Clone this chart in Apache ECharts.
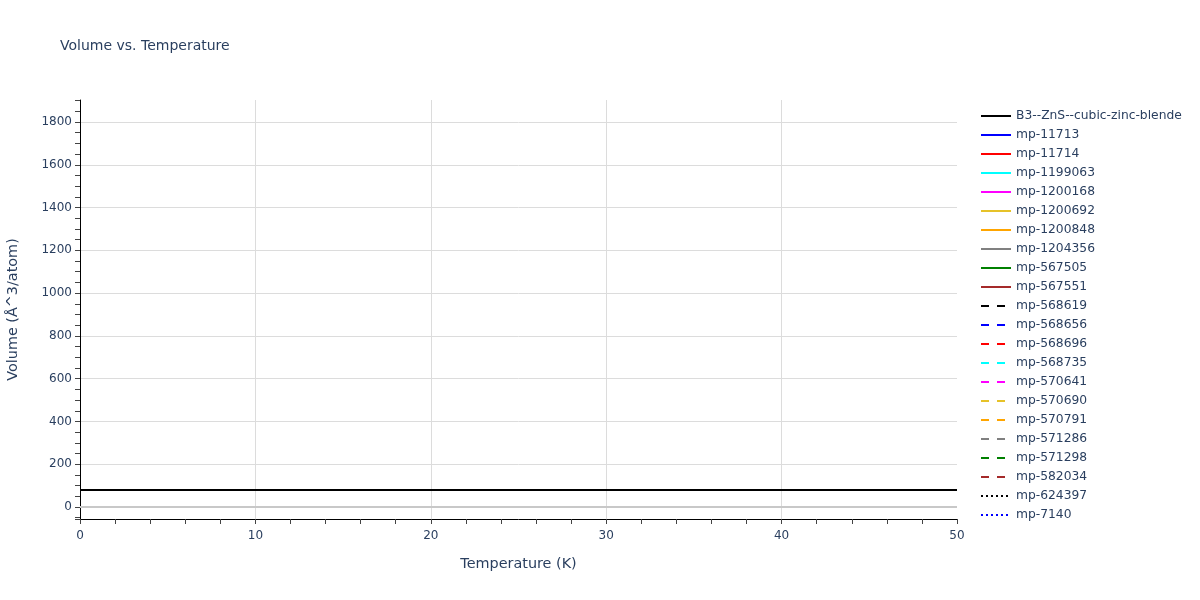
<!DOCTYPE html>
<html><head><meta charset="utf-8">
<script src="https://cdn.jsdelivr.net/npm/echarts@6/dist/echarts.min.js"></script>
<style>html,body{margin:0;padding:0;background:#fff}#c{width:1200px;height:600px}</style>
</head><body><div id="c"></div>
<script>
const temperatures = [0, 5, 10, 15, 20, 25, 30, 35, 40, 45, 50];
const volumeB3 = [80, 80, 80, 80, 80, 80, 80, 80, 80, 80, 80];
const seriesNames = ["B3--ZnS--cubic-zinc-blende","mp-11713","mp-11714","mp-1199063","mp-1200168","mp-1200692","mp-1200848","mp-1204356","mp-567505","mp-567551","mp-568619","mp-568656","mp-568696","mp-568735","mp-570641","mp-570690","mp-570791","mp-571286","mp-571298","mp-582034","mp-624397","mp-7140"];
const seriesColors = ["#000000","#0000ff","#ff0000","#00ffff","#ff00ff","#e6c229","#ffa500","#808080","#008000","#a52a2a","#000000","#0000ff","#ff0000","#00ffff","#ff00ff","#e6c229","#ffa500","#808080","#008000","#a52a2a","#000000","#0000ff"];
const seriesDash = ["solid","solid","solid","solid","solid","solid","solid","solid","solid","solid","dashed","dashed","dashed","dashed","dashed","dashed","dashed","dashed","dashed","dashed","dotted","dotted"];
const yTicks = [0, 200, 400, 600, 800, 1000, 1200, 1400, 1600, 1800];

const txt = '#2a3f5f';
const font = 'DejaVu Sans';
const series = seriesNames.map((n, i) => ({
  name: n,
  type: 'line',
  symbol: 'none',
  data: i === 0 ? temperatures.map((t, k) => [t, volumeB3[k]]) : [],
  lineStyle: {color: seriesColors[i], width: 2, type: seriesDash[i] === 'dashed' ? [8, 8] : (seriesDash[i] === 'dotted' ? [2, 3] : 'solid')},
  itemStyle: {color: seriesColors[i]},
  z: 3
}));
series[0].markLine = {
  silent: true, symbol: 'none', label: {show: false},
  lineStyle: {color: '#c8c8c8', width: 2, type: 'solid'},
  data: [{yAxis: 0}], z: 1
};
const chart = echarts.init(document.getElementById('c'));
chart.setOption({
  animation: false,
  backgroundColor: '#fff',
  textStyle: {fontFamily: font},
  title: {text: 'Volume vs. Temperature', left: 60, top: 39, padding: 0, textStyle: {fontFamily: font, fontSize: 14, fontWeight: 'normal', color: txt}},
  legend: {
    orient: 'vertical', left: 975, top: 105, itemGap: 7, itemWidth: 30, itemHeight: 14,
    itemStyle: {opacity: 0},
    textStyle: {fontFamily: font, fontSize: 12.3, color: txt},
    data: seriesNames.map(n => ({name: n}))
  },
  grid: {left: 80, right: 243, top: 100, bottom: 81, containLabel: false, outerBoundsMode: 'none'},
  xAxis: {
    type: 'value', min: 0, max: 50, interval: 10,
    name: 'Temperature (K)', nameLocation: 'middle', nameGap: 38,
    nameTextStyle: {fontFamily: font, fontSize: 14.4, color: txt},
    axisLine: {show: true, onZero: false, lineStyle: {color: '#000', width: 1}},
    axisTick: {show: true, length: 5, lineStyle: {color: '#444'}},
    minorTick: {show: true, splitNumber: 5, length: 5, lineStyle: {color: '#444'}},
    axisLabel: {fontFamily: font, fontSize: 12, color: txt, margin: 11},
    splitLine: {show: true, showMinLine: false, showMaxLine: false, lineStyle: {color: '#dcdcdc'}}
  },
  yAxis: {
    type: 'value', min: -56, max: 1903, splitNumber: 10,
    name: 'Volume (Å^3/atom)', nameLocation: 'middle', nameGap: 60,
    nameTextStyle: {fontFamily: font, fontSize: 14.4, color: txt},
    axisLine: {show: true, onZero: false, lineStyle: {color: '#000', width: 1}},
    axisTick: {show: true, length: 5, lineStyle: {color: '#444'}},
    minorTick: {show: true, splitNumber: 4, length: 5, lineStyle: {color: '#444'}},
    axisLabel: {fontFamily: font, fontSize: 12, color: txt, margin: 8, showMinLabel: false, showMaxLabel: false,
      formatter: v => yTicks.indexOf(v) >= 0 ? String(v) : ''},
    splitLine: {show: true, showMinLine: false, showMaxLine: false, lineStyle: {color: '#dcdcdc'}}
  },
  series: series
});
</script></body></html>
